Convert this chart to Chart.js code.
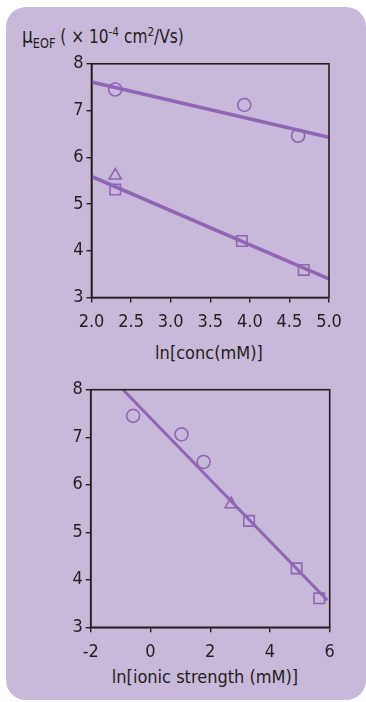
<!DOCTYPE html>
<html>
<head>
<meta charset="utf-8">
<script src="https://cdn.jsdelivr.net/npm/chart.js@4.4.1/dist/chart.umd.min.js"></script>
<style>
  html, body { margin: 0; padding: 0; width: 366px; height: 702px; background: #ffffff; overflow: hidden; }
  body { position: relative; font-family: 'Liberation Sans Narrow', 'DejaVu Sans Condensed', 'Liberation Sans', sans-serif; color: #231f20; }
  #panel { position: absolute; left: 6px; top: 7px; width: 360px; height: 693px; background: #c8b8da; border-radius: 20px; }
  .title { position: absolute; font-size: 18px; line-height: 1; white-space: nowrap; }
  #ytitle { left: 22px; top: 26px; transform: scaleX(0.9); transform-origin: left center; font-size: 19px; }
  #ytitle sub { font-size: 14px; vertical-align: -5px; line-height: 0; }
  #ytitle sup { font-size: 13px; vertical-align: 7px; line-height: 0; }
  .xtitle { text-align: center; width: 300px; }
  #xtitle1 { left: 59px; top: 344px; }
  #xtitle2 { left: 55px; top: 668px; }
  .box { position: absolute; left: 0; width: 366px; }
</style>
</head>
<body>
<div id="panel"></div>
<div class="title" id="ytitle"><span style="font-size:21px">μ</span><sub>EOF</sub> ( × 10<sup>-4</sup> cm<sup>2</sup>/Vs)</div>
<div class="title xtitle" id="xtitle1">ln[conc(mM)]</div>
<div class="title xtitle" id="xtitle2">ln[ionic strength (mM)]</div>
<div class="box" style="top:50px;height:290px"><canvas id="c1"></canvas></div>
<div class="box" style="top:370px;height:298px"><canvas id="c2"></canvas></div>
<script>
// Electro-osmotic mobility vs ln[concentration] (upper panel)
const concCircleX = [2.3, 3.93, 4.61];
const concCircleY = [7.45, 7.12, 6.46];
const concSquareX = [2.3, 3.9, 4.68];
const concSquareY = [5.31, 4.21, 3.59];
const concTriangleX = [2.3];
const concTriangleY = [5.61];
const concFitX = [2.0, 5.0];
const concFitCircleY = [7.61, 6.43];
const concFitSquareY = [5.59, 3.40];

// Electro-osmotic mobility vs ln[ionic strength] (lower panel)
const ionCircleX = [-0.58, 1.04, 1.78];
const ionCircleY = [7.45, 7.06, 6.48];
const ionTriangleX = [2.70];
const ionTriangleY = [5.59];
const ionSquareX = [3.30, 4.89, 5.65];
const ionSquareY = [5.24, 4.24, 3.61];
const ionFitX = [-0.92, 5.92];
const ionFitY = [8.0, 3.57];

const concTicks = [2.0, 2.5, 3.0, 3.5, 4.0, 4.5, 5.0];
const ionTicks = [-2, 0, 2, 4, 6];
const muTicks = [3, 4, 5, 6, 7, 8];

const INK = '#231f20';
const PURPLE = '#9065b3';
const FONT = { family: "'Liberation Sans Narrow', 'DejaVu Sans Condensed', 'Liberation Sans', sans-serif", size: 18 };

function pts(xs, ys) { return xs.map((x, i) => ({ x: x, y: ys[i] })); }

function markerSet(xs, ys, style, radius) {
  return {
    type: 'scatter', data: pts(xs, ys), pointStyle: style, pointRadius: radius, pointHoverRadius: radius,
    pointBackgroundColor: 'rgba(0,0,0,0)', pointBorderColor: PURPLE, pointBorderWidth: 1.6, showLine: false
  };
}
function fitSet(xs, ys, width) {
  return {
    type: 'line', data: pts(xs, ys), borderColor: PURPLE, borderWidth: width, pointRadius: 0,
    fill: false, tension: 0
  };
}

// Full box around the plotting area
const frame = {
  id: 'frame',
  afterDraw(chart) {
    const a = chart.chartArea, ctx = chart.ctx;
    ctx.save();
    ctx.strokeStyle = INK;
    ctx.lineWidth = 1.6;
    ctx.strokeRect(a.left, a.top, a.right - a.left, a.bottom - a.top);
    ctx.restore();
  }
};

function fixedTicks(values) {
  return function (scale) { scale.ticks = values.map(v => ({ value: v })); };
}

function makeChart(id, datasets, xTicks, xFmt, xMin, xMax, axisW, axisH, padTop, padRight, xPad) {
  return new Chart(document.getElementById(id), {
    data: { datasets: datasets },
    plugins: [frame],
    options: {
      responsive: true, maintainAspectRatio: false, animation: false,
      layout: { padding: { top: padTop, right: padRight, left: 0, bottom: 0 } },
      plugins: { legend: { display: false }, tooltip: { enabled: false } },
      scales: {
        x: {
          type: 'linear', min: xMin, max: xMax,
          afterBuildTicks: fixedTicks(xTicks),
          afterFit(s) { s.height = axisH; },
          grid: { drawOnChartArea: false, drawTicks: true, tickLength: 5, color: INK, lineWidth: 1.4 },
          border: { color: INK, width: 1.6 },
          ticks: { color: INK, font: FONT, padding: xPad, maxRotation: 0, autoSkip: false, callback: xFmt }
        },
        y: {
          type: 'linear', min: 3, max: 8,
          afterBuildTicks: fixedTicks(muTicks),
          afterFit(s) { s.width = axisW; },
          grid: { drawOnChartArea: false, drawTicks: true, tickLength: 5, color: INK, lineWidth: 1.4 },
          border: { color: INK, width: 1.6 },
          ticks: { color: INK, font: FONT, padding: 3, autoSkip: false, callback: v => String(v) }
        }
      }
    }
  });
}

makeChart('c1', [
  fitSet(concFitX, concFitCircleY, 3.5),
  fitSet(concFitX, concFitSquareY, 3.5),
  markerSet(concCircleX, concCircleY, 'circle', 6.5),
  markerSet(concSquareX, concSquareY, 'rect', 7.4),
  markerSet(concTriangleX, concTriangleY, 'triangle', 7)
], concTicks, v => Number(v).toFixed(1), 2, 5, 91.5, 42.5, 10, 37, 9);

makeChart('c2', [
  fitSet(ionFitX, ionFitY, 3),
  markerSet(ionCircleX, ionCircleY, 'circle', 6.5),
  markerSet(ionSquareX, ionSquareY, 'rect', 7.4),
  markerSet(ionTriangleX, ionTriangleY, 'triangle', 7)
], ionTicks, v => String(v), -2, 6, 90.7, 40.7, 19.7, 36.3, 9);
</script>
</body>
</html>
